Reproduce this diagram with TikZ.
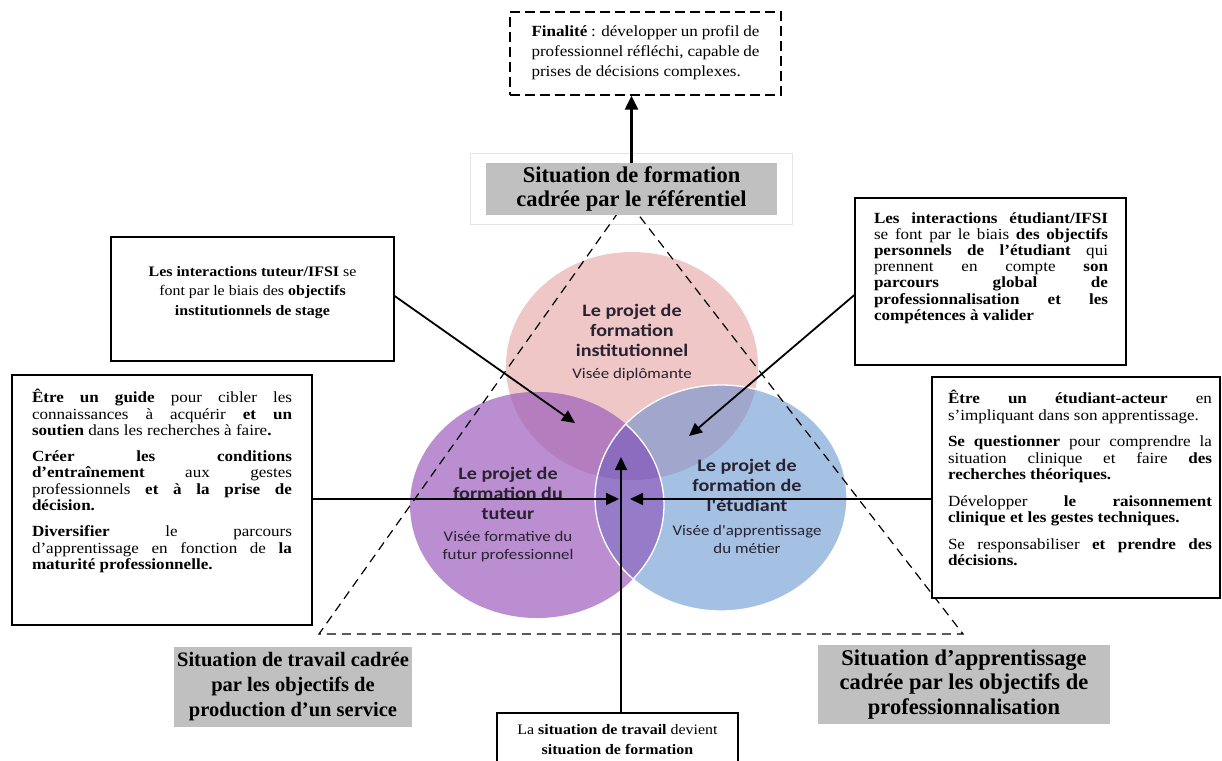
\documentclass[tikz,border=0pt]{standalone}
\usepackage{fontspec}
\setmainfont{Liberation Serif}[UprightFeatures={FakeStretch=1.1}, BoldFeatures={FakeStretch=1.1}, ItalicFeatures={FakeStretch=1.1}, BoldItalicFeatures={FakeStretch=1.1}]
\newfontfamily\titlefont{Liberation Serif}
\newfontfamily\calfont{Carlito}[FakeStretch=1.15]
\usetikzlibrary{arrows.meta}
\definecolor{vpink}{RGB}{238,199,198}
\definecolor{vpurp}{RGB}{186,142,208}
\definecolor{vblue}{RGB}{164,193,228}
\definecolor{vpp}{RGB}{180,125,190}
\definecolor{vpb}{RGB}{160,166,204}
\definecolor{vub}{RGB}{150,124,200}
\definecolor{vall}{RGB}{140,108,190}
\definecolor{vtext}{RGB}{40,34,50}
\definecolor{boxgray}{RGB}{192,192,192}
\definecolor{faintgray}{RGB}{228,228,228}
\newcommand\bxset[2]{\fontsize{#1}{#2}\selectfont\hyphenpenalty=10000 \exhyphenpenalty=10000 \tolerance=10000 \hbadness=10000 \parskip=10pt\relax}
\begin{document}
\begin{tikzpicture}[x=1pt,y=-1pt,
  frame/.style={draw, line width=1.3pt, fill=white, inner sep=0pt},
  dframe/.style={draw, line width=1.4pt, dash pattern=on 10pt off 5pt, fill=white, inner sep=0pt},
  gbox/.style={fill=boxgray, inner sep=0pt, align=center, font=\titlefont\bfseries\fontsize{22.5}{24.5}\selectfont},
  txt/.style={inner sep=0pt},
  tri/.style={line width=1.2pt, dash pattern=on 9pt off 6pt},
  arr/.style={line width=1.8pt, -{Triangle[length=13pt,width=12pt]}},
  arrtop/.style={line width=2.4pt, -{Triangle[length=14pt,width=13pt]}},
  ctitle/.style={align=center, text=vtext, font=\calfont\bfseries\fontsize{17.5}{20}\selectfont, inner sep=0pt},
  csub/.style={align=center, text=vtext, font=\calfont\fontsize{14.7}{18}\selectfont, inner sep=0pt},
]
\useasboundingbox (0,0) rectangle (1222,760);

% faint frame round the title
\draw[faintgray, line width=1pt] (470,153) rectangle (792,224);

% Venn diagram
\fill[vpink] (632,366) ellipse [x radius=126pt, y radius=114pt];
\fill[vpurp] (537,505) ellipse [x radius=127pt, y radius=113pt];
\fill[vblue] (721,498) ellipse [x radius=126pt, y radius=113pt];
\begin{scope}
  \clip (632,366) ellipse [x radius=126pt, y radius=114pt];
  \fill[vpp] (537,505) ellipse [x radius=127pt, y radius=113pt];
  \fill[vpb] (721,498) ellipse [x radius=126pt, y radius=113pt];
\end{scope}
\begin{scope}
  \clip (537,505) ellipse [x radius=127pt, y radius=113pt];
  \fill[vub] (721,498) ellipse [x radius=126pt, y radius=113pt];
  \clip (632,366) ellipse [x radius=126pt, y radius=114pt];
  \fill[vall] (721,498) ellipse [x radius=126pt, y radius=113pt];
\end{scope}
\draw[white, line width=1.3pt] (721,498) ellipse [x radius=126pt, y radius=113pt];
\begin{scope}
  \clip (721,498) ellipse [x radius=126pt, y radius=113pt];
  \draw[white, line width=1.3pt] (537,505) ellipse [x radius=127pt, y radius=113pt];
\end{scope}

\node[ctitle] (tinst) at (632,330) {Le projet de\\formation\\institutionnel};
\node[csub] (sinst) at (632,375) {Visée diplômante};
\node[ctitle] (ttut) at (508,493) {Le projet de\\formation du\\tuteur};
\node[csub] (stut) at (508,546.5) {Visée formative du\\futur professionnel};
\node[ctitle] (tetu) at (747,485) {Le projet de\\formation de\\l'étudiant};
\node[csub] (setu) at (747,539) {Visée d'apprentissage\\du métier};

% dashed triangle
\draw[tri] (627,200) -- (319,634) -- (963,634) -- cycle;

% top dashed box
\node[dframe, minimum width=271pt, minimum height=83pt] (fin) at (645.5,53.5) {};
\node[txt] (fintxt) at (645.5,53) {\begin{minipage}{228pt}\bxset{15.5}{20}%
\textbf{Finalité} : développer un profil de\linebreak professionnel réfléchi, capable de\linebreak prises de décisions complexes.\end{minipage}};

% title
\node[gbox, minimum width=291pt, minimum height=52pt] (title) at (631.5,189) {Situation de formation\\cadrée par le référentiel};

% box 1
\node[frame, minimum width=283pt, minimum height=124pt] (box1) at (252.5,299) {};
\node[txt, align=center, font=\fontsize{14.5}{19.5}\selectfont] (box1txt) at (252.5,292.5) {\textbf{Les interactions tuteur/IFSI} se\\font par le biais des \textbf{objectifs}\\\textbf{institutionnels de stage}};

% right box 1
\node[frame, minimum width=271pt, minimum height=167pt] (rbox1) at (990.5,281.5) {};
\node[txt] (rbox1txt) at (991,268) {\begin{minipage}{234pt}\bxset{15.5}{16.2}%
\textbf{Les interactions étudiant/IFSI}\linebreak se font par le biais \textbf{des objectifs}\linebreak \textbf{personnels de l’étudiant} qui\linebreak prennent en compte \textbf{son}\linebreak \textbf{parcours global de}\linebreak \textbf{professionnalisation et les}\linebreak \textbf{compétences à valider}\end{minipage}};

% left box 2
\node[frame, minimum width=300pt, minimum height=250pt] (lbox2) at (162,500) {};
\node[txt] (lbox2txt) at (162,481) {\begin{minipage}{260pt}\bxset{15.5}{16.3}%
\textbf{Être un guide} pour cibler les\linebreak connaissances à acquérir \textbf{et un}\linebreak \textbf{soutien} dans les recherches à faire\textbf{.}\par
\textbf{Créer les conditions}\linebreak \textbf{d’entraînement} aux gestes\linebreak professionnels \textbf{et à la prise de}\linebreak \textbf{décision.}\par
\textbf{Diversifier} le parcours\linebreak d’apprentissage en fonction de \textbf{la}\linebreak \textbf{maturité professionnelle.}\end{minipage}};

% right box 2
\node[frame, minimum width=288pt, minimum height=221pt] (rbox2) at (1076,487.5) {};
\node[txt] (rbox2txt) at (1080,478) {\begin{minipage}{264pt}\bxset{15.5}{16.5}%
\textbf{Être un étudiant-acteur} en\linebreak s’impliquant dans son apprentissage.\par
\textbf{Se questionner} pour comprendre la\linebreak situation clinique et faire \textbf{des}\linebreak \textbf{recherches théoriques.}\par
Développer \textbf{le raisonnement}\linebreak \textbf{clinique et les gestes techniques.}\par
Se responsabiliser \textbf{et prendre des}\linebreak \textbf{décisions.}\end{minipage}};

% bottom grey boxes
\node[gbox, minimum width=238pt, minimum height=80pt, font=\titlefont\bfseries\fontsize{20.5}{25}\selectfont] (work) at (293,687) {Situation de travail cadrée\\par les objectifs de\\production d’un service};
\node[gbox, minimum width=292pt, minimum height=79pt] (learn) at (964,684.5) {Situation d’apprentissage\\cadrée par les objectifs de\\professionnalisation};

% bottom centre box
\node[frame, minimum width=241pt, minimum height=49pt] (bbox) at (617.5,737.5) {};
\node[txt, align=center, font=\fontsize{14.5}{20}\selectfont] (bboxtxt) at (617.5,740) {La \textbf{situation de travail} devient\\\textbf{situation de formation}};

% arrows
\coordinate (tipA) at (575,423);
\coordinate (tipB) at (689,436);
\coordinate (tipL) at (619,499);
\coordinate (tipR) at (630,499);
\coordinate (tipU) at (621,457);
\draw[arr] ([yshift=3pt]box1.east) -- (tipA);
\draw[arr] ([yshift=-13.5pt]rbox1.west) -- (tipB);
\draw[arr] (lbox2.east |- tipL) -- (tipL);
\draw[arr] (rbox2.west |- tipR) -- (tipR);
\draw[arr] (bbox.north -| tipU) -- (tipU);
\draw[arrtop] (title.north) -- (title.north |- fin.south);
\end{tikzpicture}
\end{document}
